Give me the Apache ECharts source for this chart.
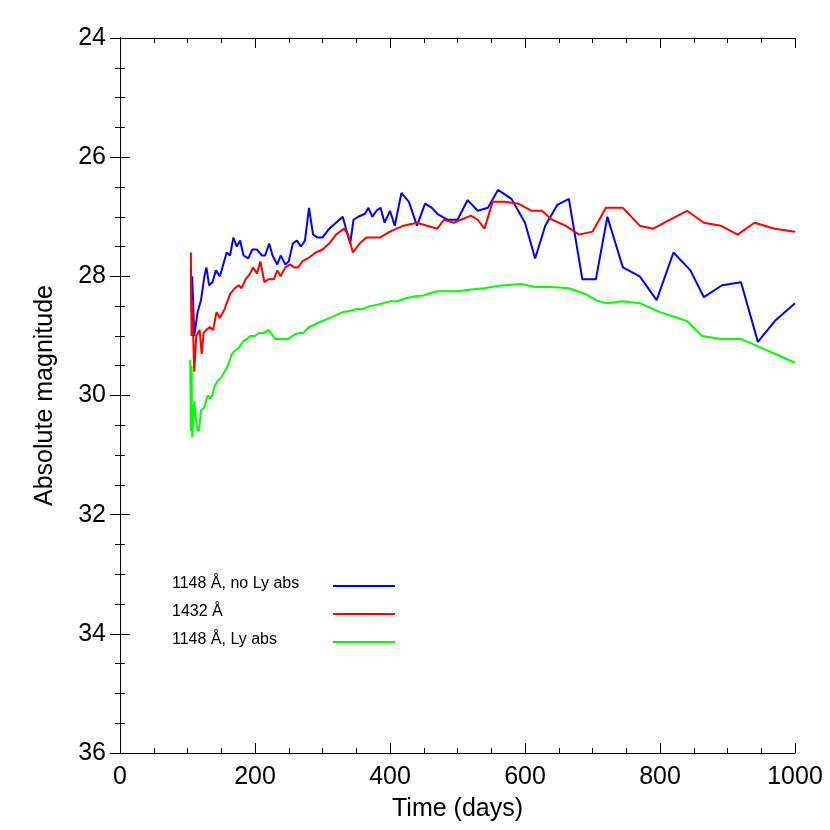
<!DOCTYPE html>
<html><head><meta charset="utf-8">
<script src="https://cdn.jsdelivr.net/npm/echarts@6/dist/echarts.min.js"></script>
<style>html,body{margin:0;background:#fff}#c{width:830px;height:830px}</style>
</head><body><div id="c"></div>
<script>
const blue=[[105,27.85],[106,28.6],[107,28.0],[110,29.0],[115,28.6],[120,28.4],[125,28.0],[128,27.85],[132,28.15],[137,28.1],[142,27.9],[148,28.0],[153,27.8],[158,27.6],[163,27.65],[168,27.35],[173,27.5],[178,27.4],[183,27.65],[190,27.7],[196,27.55],[203,27.55],[210,27.65],[215,27.65],[221,27.45],[226,27.65],[233,27.8],[238,27.65],[245,27.8],[250,27.75],[256,27.45],[262,27.4],[268,27.5],[274,27.4],[280,26.85],[286,27.3],[293,27.35],[300,27.35],[310,27.2],[320,27.1],[330,27.0],[336,27.25],[341,27.45],[346,27.05],[353,27.0],[363,26.95],[368,26.85],[374,27.0],[380,26.9],[386,26.85],[392,27.1],[400,26.9],[407,27.15],[417,26.6],[428,26.75],[440,27.15],[452,26.78],[462,26.85],[470,26.95],[485,27.05],[500,27.05],[515,26.72],[530,26.9],[545,26.85],[560,26.55],[580,26.7],[600,27.1],[615,27.7],[630,27.15],[648,26.8],[665,26.7],[685,28.05],[705,28.05],[722,27.0],[745,27.85],[770,28.0],[795,28.4],[820,27.6],[845,27.9],[865,28.35],[892,28.15],[920,28.1],[945,29.1],[970,28.75],[1000,28.45]];
const red=[[105,27.6],[106,29.0],[107,28.4],[110,29.6],[113,29.0],[118,28.9],[121,29.3],[124,28.95],[128,28.9],[133,28.85],[138,28.9],[143,28.6],[148,28.7],[155,28.55],[163,28.3],[170,28.2],[176,28.15],[180,28.2],[186,28.05],[193,27.95],[197,27.85],[203,27.95],[208,27.75],[214,28.1],[220,28.05],[228,28.05],[233,27.9],[238,28.0],[245,27.85],[252,27.8],[258,27.85],[264,27.85],[270,27.75],[278,27.7],[290,27.6],[300,27.55],[310,27.45],[320,27.3],[332,27.2],[338,27.3],[345,27.6],[355,27.45],[365,27.35],[375,27.35],[385,27.35],[400,27.25],[420,27.15],[440,27.1],[455,27.15],[470,27.2],[480,27.05],[495,27.1],[505,27.05],[520,26.98],[530,27.05],[540,27.2],[552,26.75],[570,26.75],[590,26.78],[610,26.9],[625,26.9],[640,27.05],[660,27.15],[680,27.3],[700,27.25],[720,26.85],[745,26.85],[770,27.15],[790,27.2],[815,27.05],[840,26.9],[865,27.1],[890,27.15],[915,27.3],[940,27.1],[970,27.2],[1000,27.25]];
const green=[[104,29.4],[105,30.6],[106,29.5],[107,30.7],[110,30.1],[114,30.55],[117,30.6],[120,30.25],[125,30.2],[130,30.0],[133,30.05],[137,30.0],[140,29.85],[145,29.75],[150,29.7],[155,29.6],[160,29.5],[166,29.3],[170,29.25],[176,29.2],[182,29.1],[188,29.05],[193,29.0],[200,29.0],[206,28.95],[213,28.95],[220,28.9],[230,29.05],[236,29.05],[243,29.05],[250,29.05],[258,28.98],[265,28.95],[272,28.95],[280,28.85],[290,28.8],[300,28.75],[310,28.7],[320,28.65],[330,28.6],[340,28.58],[350,28.55],[360,28.55],[370,28.5],[380,28.48],[390,28.45],[400,28.42],[410,28.42],[420,28.38],[430,28.35],[440,28.33],[450,28.32],[460,28.28],[470,28.25],[480,28.25],[500,28.25],[520,28.22],[540,28.2],[560,28.16],[580,28.14],[595,28.13],[615,28.18],[640,28.18],[665,28.2],[690,28.3],[705,28.4],[720,28.45],[745,28.42],[770,28.45],[800,28.6],[840,28.75],[862,29.0],[890,29.05],[920,29.05],[950,29.2],[980,29.35],[1000,29.45]];
const names=['1148 Å, no Ly abs','1432 Å','1148 Å, Ly abs'];
const colors=['#0000ff','#ff0000','#00ff00'];
const F='Liberation Sans';
const c=echarts.init(document.getElementById('c'));
const ax=(o)=>Object.assign({axisLine:{show:true,lineStyle:{color:'#000'}},splitLine:{show:false},
 axisTick:{inside:true,length:10,lineStyle:{color:'#000'}},minorTick:{show:true,splitNumber:4,length:5,lineStyle:{color:'#000'}}},o);
const lg=[];
names.forEach((n,i)=>{const y=586+i*28;
 lg.push({type:'text',left:172,top:y-10,style:{text:n,font:'16px '+F,fill:'#000'}});
 lg.push({type:'line',shape:{x1:333,y1:y,x2:395,y2:y},style:{stroke:colors[i],lineWidth:2}});});
c.setOption({animation:false,
 grid:{left:120,right:35,top:38,bottom:77},
 graphic:lg,
 xAxis:[ax({type:'value',min:0,max:1000,interval:200,name:'Time (days)',nameLocation:'middle',nameGap:44,
   nameTextStyle:{fontSize:25,fontFamily:F,color:'#000'},axisLabel:{fontSize:25,fontFamily:F,color:'#000',margin:12,formatter:v=>String(v)}}),
  ax({type:'value',position:'top',min:0,max:1000,interval:200,axisLabel:{show:false}})],
 yAxis:[ax({type:'value',inverse:true,min:24,max:36,interval:2,name:'Absolute magnitude',nameLocation:'middle',nameGap:62,
   nameTextStyle:{fontSize:25,fontFamily:F,color:'#000'},axisLabel:{fontSize:25,fontFamily:F,color:'#000',margin:14}}),
  ax({type:'value',position:'right',inverse:true,min:24,max:36,interval:2,axisLabel:{show:false}})],
 series:[blue,red,green].map((d,i)=>({type:'line',name:names[i],data:d,showSymbol:false,symbol:'none',
   lineStyle:{color:colors[i],width:2},itemStyle:{color:colors[i]}}))
});
</script></body></html>
